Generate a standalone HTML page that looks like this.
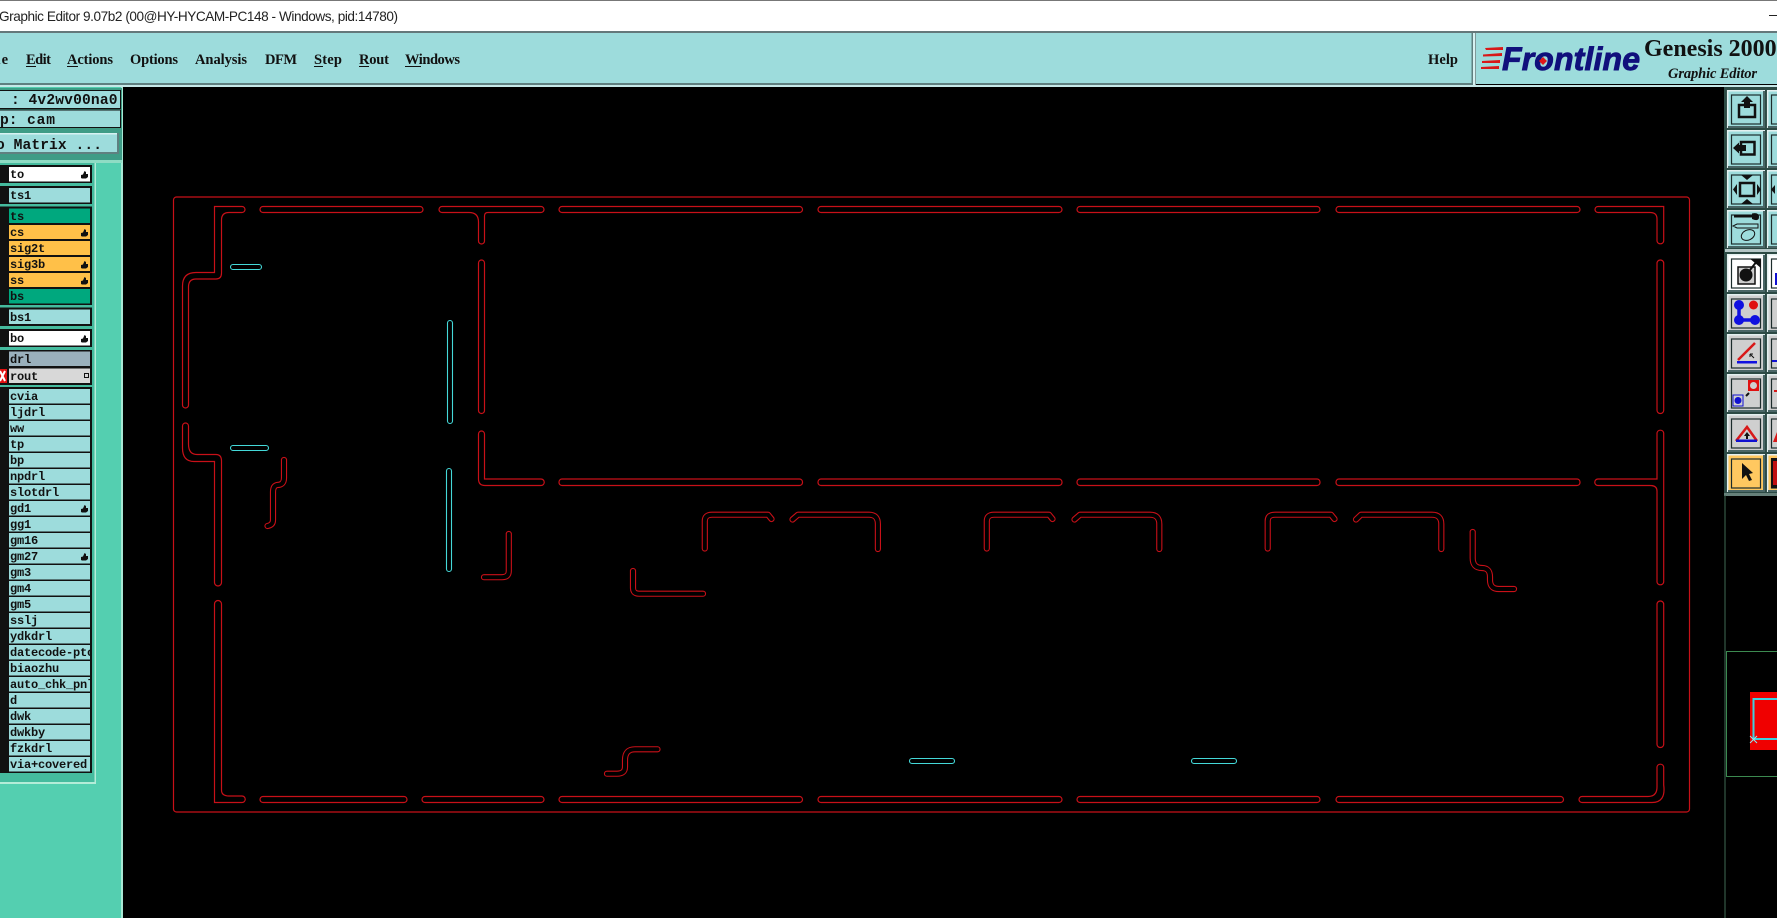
<!DOCTYPE html>
<html><head><meta charset="utf-8"><title>Graphic Editor</title>
<style>html,body{margin:0;padding:0;background:#000;overflow:hidden}svg{display:block}
.m{font:bold 14.5px "Liberation Serif",serif;fill:#111}
.l{font:bold 12px "Liberation Mono",monospace;fill:#111;letter-spacing:-.2px}
.j{font:bold 14.6px "Liberation Mono",monospace;fill:#111}</style></head><body>
<svg xmlns="http://www.w3.org/2000/svg" width="1777" height="918" viewBox="0 0 1777 918">
<defs>
<g id="b"><rect width="38" height="38"/><path d="M.7 38V.7H38" fill="none" stroke="#e4f0f0" stroke-width="1.500"/><path d="M37 1V37H1" fill="none" stroke="#4a6666" stroke-width="2"/><rect x="4.500" y="5" width="29" height="29" fill="none" stroke="#1c2c2c" stroke-width="1.200"/></g>
<path id="h" d="M0 7V4L2 3.500L3.500 0L5 1L5 3H7V6L5 7.500H1Z" fill="#111"/>
<g id="s" fill="none" stroke-linecap="round" stroke-linejoin="round">
<path d="M284 460V478Q284 485 277 485Q273 486 273 492V520Q273 525 267.500 526"/>
<path d="M508.800 534V571Q508.800 577.200 502 577.200H484"/>
<path d="M633 571V588Q633 593.700 639 593.700H703"/>
<path d="M657.500 749.300H635Q625 749.300 625 760V767Q625 773.700 617 773.700H607"/>
<path d="M704.800 548.500V521Q704.800 514.700 712 514.700H768L771.500 519"/>
<path d="M792.500 519.500L798 514.700H869Q877.900 514.700 877.900 524V549"/>
<path d="M986.800 548.500V521Q986.800 514.700 994 514.700H1049L1052.500 519"/>
<path d="M1074.500 519.500L1080 514.700H1150Q1159.300 514.700 1159.300 524V549"/>
<path d="M1267.700 548.500V521Q1267.700 514.700 1275 514.700H1331L1334.500 519"/>
<path d="M1356 519.500L1361 514.700H1432Q1441.300 514.700 1441.300 524V549"/>
<path d="M1472.700 532V558Q1472.700 568 1482 568Q1490 568 1490 577V580Q1490 589 1499 589H1514"/>
</g>
</defs>
<rect width="1777" height="918" fill="#000"/>

<!-- title bar -->
<rect width="1777" height="32" fill="#fff"/><rect width="1777" height="1" fill="#777"/>
<rect y="31" width="1777" height="2" fill="#64787a"/>
<text x="-1" y="21" font-family="Liberation Sans,sans-serif" font-size="13.600" fill="#222" textLength="399">Graphic Editor 9.07b2 (00@HY-HYCAM-PC148 - Windows, pid:14780)</text>
<rect x="1769" y="15" width="8" height="1" fill="#222"/>

<!-- menu -->
<rect y="33" width="1777" height="51" fill="#9ddcdc"/>
<rect y="83" width="1472" height="2" fill="#5f8080"/><rect y="85" width="1777" height="2" fill="#c6e8e8"/>
<rect x="1471.500" y="33" width="1.500" height="52" fill="#5f8080"/><rect x="1473" y="33" width="2" height="52" fill="#d6f2f2"/><rect x="1475" y="33" width="1" height="52" fill="#7f9a9a"/>
<text class="m" x="-18" y="64" textLength="26">File</text>
<text class="m" x="26" y="64" textLength="25">Edit</text>
<text class="m" x="67" y="64" textLength="46">Actions</text>
<text class="m" x="130" y="64" textLength="48">Options</text>
<text class="m" x="195" y="64" textLength="52">Analysis</text>
<text class="m" x="265" y="64" textLength="32">DFM</text>
<text class="m" x="314" y="64" textLength="28">Step</text>
<text class="m" x="359" y="64" textLength="30">Rout</text>
<text class="m" x="405" y="64" textLength="55">Windows</text>
<text class="m" x="1428" y="64" textLength="30">Help</text>
<g fill="#111"><rect x="26" y="66" width="10" height="1"/><rect x="67" y="66" width="11" height="1"/><rect x="314" y="66" width="9" height="1"/><rect x="359" y="66" width="10" height="1"/><rect x="405" y="66" width="16" height="1"/></g>
<!-- logo -->
<g fill="#d81818"><path d="M1485 48L1503 47V50L1486 50Z"/><path d="M1483 54.500L1502 53V56L1483 56.500Z"/><path d="M1482 61L1500 60V63L1482 63Z"/><path d="M1481 67L1499 66V69L1481 69Z"/></g>
<text x="1502" y="70" font-family="Liberation Sans,sans-serif" font-weight="bold" font-style="italic" font-size="32" fill="#10107c" stroke="#10107c" stroke-width=".9" textLength="138">Frontline</text>
<path d="M1543 57L1547 61L1543 65L1539 61Z" fill="#e01818"/>
<text x="1644" y="56" font-family="Liberation Serif,serif" font-weight="bold" font-size="24" fill="#111">Genesis 2000</text>
<text x="1668" y="78" font-family="Liberation Serif,serif" font-weight="bold" font-style="italic" font-size="14.500" fill="#111" textLength="89">Graphic Editor</text>

<!-- left panel -->
<rect y="87" width="121" height="831" fill="#54cfb0"/><rect x="121" y="87" width="2" height="831" fill="#a8e8d4"/>
<rect y="88" width="122" height="72" fill="#3e9c86"/>
<rect y="90" width="121" height="19" fill="#111"/><rect y="91" width="120" height="17" fill="#9ddcdc"/>
<rect y="109.500" width="121" height="18.500" fill="#111"/><rect y="110.500" width="120" height="16.500" fill="#9ddcdc"/>
<text class="j" x="11" y="104">:</text><text class="j" x="28.500" y="104" textLength="89">4v2wv00na0</text>
<text class="j" x="0" y="124">p:</text><text class="j" x="27" y="124" textLength="28">cam</text>
<rect y="131" width="121" height="24" fill="#3e9c86"/><rect y="133" width="119" height="21" fill="#5f8080"/><rect y="133" width="117" height="19" fill="#9ddcdc"/><rect y="133" width="117" height="1.500" fill="#d6f2f2"/>
<text class="j" x="-4" y="149" textLength="106">o Matrix ...</text>
<!-- layers frame -->
<rect y="160" width="122" height="3" fill="#8fdcc4"/>
<rect y="163" width="96" height="621" fill="#b4ecd8"/><rect y="163" width="94.500" height="619" fill="#45bb9e"/>
<g fill="#111">
<rect y="165" width="92" height="18"/><rect y="186" width="92" height="18"/><rect y="206.500" width="92" height="98.500"/><rect y="307.500" width="92" height="18.500"/><rect y="329" width="92" height="18"/><rect y="350" width="92" height="35"/><rect y="387" width="92" height="386"/>
</g>
<g fill="#9ddcdc">
<rect x="9" y="167" width="81" height="14.500" fill="#fff"/>
<rect x="9" y="188" width="81" height="14.500"/>
<rect x="9" y="208.500" width="81" height="14.500" fill="#00a87e"/>
<rect x="9" y="225" width="81" height="14" fill="#ffc048"/>
<rect x="9" y="241" width="81" height="14" fill="#ffc048"/>
<rect x="9" y="257" width="81" height="14" fill="#ffc048"/>
<rect x="9" y="273" width="81" height="14" fill="#ffc048"/>
<rect x="9" y="289" width="81" height="14.500" fill="#00a87e"/>
<rect x="9" y="309.500" width="81" height="14.500"/>
<rect x="9" y="331" width="81" height="14.500" fill="#fff"/>
<rect x="9" y="351.500" width="81" height="14.500" fill="#9ab0bc"/>
<rect x="9" y="368.500" width="81" height="14.500" fill="#d8d8d8"/>
<rect x="9" y="389" width="81" height="14.500"/><rect x="9" y="405" width="81" height="14.500"/><rect x="9" y="421" width="81" height="14.500"/><rect x="9" y="437" width="81" height="14.500"/><rect x="9" y="453" width="81" height="14.500"/><rect x="9" y="469" width="81" height="14.500"/><rect x="9" y="485" width="81" height="14.500"/><rect x="9" y="501" width="81" height="14.500"/><rect x="9" y="517" width="81" height="14.500"/><rect x="9" y="533" width="81" height="14.500"/><rect x="9" y="549" width="81" height="14.500"/><rect x="9" y="565" width="81" height="14.500"/><rect x="9" y="581" width="81" height="14.500"/><rect x="9" y="597" width="81" height="14.500"/><rect x="9" y="613" width="81" height="14.500"/><rect x="9" y="629" width="81" height="14.500"/><rect x="9" y="645" width="81" height="14.500"/><rect x="9" y="661" width="81" height="14.500"/><rect x="9" y="677" width="81" height="14.500"/><rect x="9" y="693" width="81" height="14.500"/><rect x="9" y="709" width="81" height="14.500"/><rect x="9" y="725" width="81" height="14.500"/><rect x="9" y="741" width="81" height="14.500"/><rect x="9" y="757" width="81" height="14.500"/>
</g>
<rect y="369" width="7" height="14" fill="#e01010"/><path d="M0 371L5 381M5 371L0 381" stroke="#fff" stroke-width="2"/>
<svg x="0" y="0" width="90" height="918" overflow="hidden">
<text class="l" x="10" y="178">to</text><text class="l" x="10" y="199">ts1</text><text class="l" x="10" y="220">ts</text><text class="l" x="10" y="236">cs</text><text class="l" x="10" y="252">sig2t</text><text class="l" x="10" y="268">sig3b</text><text class="l" x="10" y="284">ss</text><text class="l" x="10" y="300">bs</text><text class="l" x="10" y="321">bs1</text><text class="l" x="10" y="342">bo</text><text class="l" x="10" y="363">drl</text><text class="l" x="10" y="380">rout</text>
<text class="l" x="10" y="400">cvia</text><text class="l" x="10" y="416">ljdrl</text><text class="l" x="10" y="432">ww</text><text class="l" x="10" y="448">tp</text><text class="l" x="10" y="464">bp</text><text class="l" x="10" y="480">npdrl</text><text class="l" x="10" y="496">slotdrl</text><text class="l" x="10" y="512">gd1</text><text class="l" x="10" y="528">gg1</text><text class="l" x="10" y="544">gm16</text><text class="l" x="10" y="560">gm27</text><text class="l" x="10" y="576">gm3</text><text class="l" x="10" y="592">gm4</text><text class="l" x="10" y="608">gm5</text><text class="l" x="10" y="624">sslj</text><text class="l" x="10" y="640">ydkdrl</text><text class="l" x="10" y="656">datecode-ptc</text><text class="l" x="10" y="672">biaozhu</text><text class="l" x="10" y="688">auto_chk_pnl</text><text class="l" x="10" y="704">d</text><text class="l" x="10" y="720">dwk</text><text class="l" x="10" y="736">dwkby</text><text class="l" x="10" y="752">fzkdrl</text><text class="l" x="10" y="768">via+covered</text>
</svg>
<use href="#h" x="81" y="171"/><use href="#h" x="81" y="229"/><use href="#h" x="81" y="261"/><use href="#h" x="81" y="277"/><use href="#h" x="81" y="335"/><use href="#h" x="81" y="505"/><use href="#h" x="81" y="553"/>
<rect x="84.500" y="373.500" width="4" height="4" fill="none" stroke="#111"/>

<!-- canvas -->
<g fill="none" stroke="#c81018" stroke-width="1.200">
<rect x="173.500" y="197" width="1516" height="615" rx="3"/>
<!-- top row -->
<rect x="260" y="206.500" width="163" height="6" rx="3"/>
<rect x="559" y="206.500" width="243.500" height="6" rx="3"/><rect x="818" y="206.500" width="244" height="6" rx="3"/><rect x="1077" y="206.500" width="243" height="6" rx="3"/><rect x="1336" y="206.500" width="244" height="6" rx="3"/>
<!-- mid row -->
<rect x="559" y="479" width="243.500" height="6.500" rx="3"/><rect x="818" y="479" width="244" height="6.500" rx="3"/><rect x="1077" y="479" width="243" height="6.500" rx="3"/><rect x="1336" y="479" width="244" height="6.500" rx="3"/>
<!-- bottom row -->
<rect x="260" y="796.500" width="147" height="6" rx="3"/><rect x="422" y="796.500" width="122" height="6" rx="3"/><rect x="559" y="796.500" width="243.500" height="6" rx="3"/><rect x="818" y="796.500" width="244" height="6" rx="3"/><rect x="1077" y="796.500" width="243" height="6" rx="3"/><rect x="1336" y="796.500" width="227.500" height="6" rx="3"/>
<!-- verticals -->
<rect x="478.500" y="260" width="6" height="153.500" rx="3"/>
<rect x="1657" y="260" width="6.700" height="153.500" rx="3.300"/>
<rect x="1657" y="601" width="6.700" height="146.500" rx="3.300"/>
<!-- corner pieces -->
<path d="M214.500 206.500H242A3 3 0 0 1 242 212.500H229Q221.500 212.500 221.500 220V273Q221.500 279 216 279H196Q188.500 279 188.500 287V405A3 3 0 0 1 182.500 405V286Q182.500 272.500 196 272.500H214.500Z"/>
<path d="M182.500 426A3 3 0 0 1 188.500 426V444Q188.500 454.500 197 454.500H216Q221.500 454.500 221.500 461V582.500A3.500 3.500 0 0 1 214.500 582.500V461.500H194Q182.500 461.500 182.500 448Z"/>
<path d="M214.500 604A3.500 3.500 0 0 1 221.500 604V790Q221.500 796 229 796H242A3 3 0 0 1 242 802.500H214.500Z"/>
<path d="M442 206.500H541A3 3 0 0 1 541 212.500H488Q484.500 212.500 484.500 216V241A3 3 0 0 1 478.500 241V222Q478.500 212.500 469 212.500H442A3 3 0 0 1 442 206.500Z"/>
<path d="M478.500 434A3 3 0 0 1 484.500 434V479H541A3.200 3.200 0 0 1 541 485.500H485Q478.500 485.500 478.500 479Z"/>
<path d="M1598 206.500H1663.700V241A3.400 3.400 0 0 1 1657 241V219Q1657 212.500 1650 212.500H1598A3 3 0 0 1 1598 206.500Z"/>
<path d="M1657 433A3.400 3.400 0 0 1 1663.700 433V582A3.400 3.400 0 0 1 1657 582V491Q1657 485.500 1650 485.500H1598A3.200 3.200 0 0 1 1598 479H1657Z"/>
<path d="M1657 767A3.400 3.400 0 0 1 1663.700 767V785Q1666 802.500 1652 802.500H1582A3 3 0 0 1 1582 796.500H1648Q1657 796.500 1657 787Z"/>
</g>
<use href="#s" stroke="#c81018" stroke-width="6.200"/>
<use href="#s" stroke="#000" stroke-width="4"/>
<g fill="none" stroke="#44d8d8" stroke-width="1.100">
<rect x="230.500" y="264.500" width="31" height="5" rx="2.500"/>
<rect x="230.500" y="445.500" width="38" height="5" rx="2.500"/>
<rect x="447.500" y="320.500" width="5" height="103" rx="2.500"/>
<rect x="446.500" y="468.500" width="5" height="103" rx="2.500"/>
<rect x="909.500" y="758.500" width="45" height="5" rx="2.500"/>
<rect x="1191.500" y="758.500" width="45" height="5" rx="2.500"/>
</g>

<!-- right toolbar -->
<rect x="1724" y="87" width="53" height="408" fill="#2c4a44"/>
<use href="#b" x="1727" y="90" fill="#9ddcdc"/><use href="#b" x="1767" y="90" fill="#9ddcdc"/>
<use href="#b" x="1727" y="130" fill="#9ddcdc"/><use href="#b" x="1767" y="130" fill="#9ddcdc"/>
<use href="#b" x="1727" y="170" fill="#9ddcdc"/><use href="#b" x="1767" y="170" fill="#9ddcdc"/>
<use href="#b" x="1727" y="210" fill="#9ddcdc"/><use href="#b" x="1767" y="210" fill="#9ddcdc"/>
<rect x="1725" y="249" width="52" height="3" fill="#b4c6c6"/>
<use href="#b" x="1727" y="254" fill="#fff"/><use href="#b" x="1767" y="254" fill="#fff"/>
<use href="#b" x="1727" y="294" fill="#cfcfcf"/><use href="#b" x="1767" y="294" fill="#cfcfcf"/>
<use href="#b" x="1727" y="334" fill="#cfcfcf"/><use href="#b" x="1767" y="334" fill="#cfcfcf"/>
<use href="#b" x="1727" y="374" fill="#cfcfcf"/><use href="#b" x="1767" y="374" fill="#cfcfcf"/>
<use href="#b" x="1727" y="414" fill="#cfcfcf"/><use href="#b" x="1767" y="414" fill="#cfcfcf"/>
<use href="#b" x="1727" y="454" fill="#ffc860"/><use href="#b" x="1767" y="454" fill="#ffc860"/>
<!-- icons -->
<g fill="none" stroke="#111" stroke-width="2.500"><rect x="1739" y="105" width="16" height="12"/><rect x="1741" y="142" width="13.500" height="12.500"/><rect x="1740" y="183" width="14" height="13"/></g>
<g fill="#111"><path d="M1747 96L1753 102H1750V108H1744V102H1741Z"/><path d="M1733 148L1739 142.500V145H1746V151H1739V153.500Z"/><path d="M1741 175H1753L1747 180Z"/><path d="M1741 204H1753L1747 199Z"/><path d="M1733 189.500L1737 184V195Z"/><path d="M1761 189.500L1757 184V195Z"/>
<rect x="1734" y="215" width="24" height="2.500"/><path d="M1752 213.500Q1759 212 1759 217Q1759 222 1752 219Z"/></g>
<path d="M1737 224H1758V228H1737L1733 226Z" fill="#9ddcdc" stroke="#111"/>
<ellipse cx="1748" cy="235" rx="7" ry="5" fill="none" stroke="#111" transform="rotate(-25 1748 235)"/>
<!-- white btn icon -->
<rect x="1738" y="267" width="17" height="17" fill="#ccc" stroke="#111" stroke-width="1.500"/><circle cx="1746" cy="275" r="6.500" fill="#111"/><path d="M1750 270L1757 261M1753 260H1760V266Z" stroke="#111" stroke-width="2" fill="#111"/>
<!-- blue dots -->
<path d="M1739 303V320H1756" fill="none" stroke="#1010e0" stroke-width="3.500"/><circle cx="1739" cy="305" r="5" fill="#1010e0"/><circle cx="1739" cy="320" r="5" fill="#1010e0"/><circle cx="1755" cy="320" r="5" fill="#1010e0"/><circle cx="1753.500" cy="305" r="4.500" fill="#e01010"/>
<!-- slanted -->
<path d="M1738 360L1755 343" stroke="#d81818" stroke-width="2.500"/><rect x="1737" y="361" width="20" height="2.500" fill="#1010e0"/><path d="M1750 354L1754 358M1750 354H1753M1750 354V357" stroke="#111"/>
<!-- squares -->
<rect x="1748" y="380" width="11" height="11" fill="#e01010"/><circle cx="1753.500" cy="385.500" r="3.500" fill="#cfcfcf"/><rect x="1733" y="395" width="10" height="11" fill="#cfcfcf" stroke="#1010d0"/><circle cx="1738" cy="400.500" r="3.500" fill="#1010d0"/><path d="M1746 396L1749 393" stroke="#111" stroke-width="2"/>
<!-- triangle -->
<path d="M1736 441L1747 427L1757 441" fill="none" stroke="#d81818" stroke-width="2.500"/><rect x="1736" y="439.500" width="21" height="2.500" fill="#1010d0"/><path d="M1747 432L1750 436H1748V439H1746V436H1744Z" fill="#111"/>
<!-- arrow -->
<path d="M1742 463V479L1746 475L1749 481L1752 480L1749 474L1753 473Z" fill="#111"/>
<!-- col 2 fragments -->
<path d="M1771 189.500L1775 185V194Z" fill="#111"/>
<rect x="1775" y="273" width="2" height="12" fill="#1010d0"/><rect x="1772" y="360" width="5" height="2" fill="#1010d0"/><rect x="1774" y="390" width="3" height="2" fill="#d81818"/><path d="M1773 442L1777 432V442Z" fill="#d81818"/>
<rect x="1771" y="458" width="6" height="30" fill="#111"/><rect x="1773" y="461" width="4" height="24" fill="#c01010"/>
<rect x="1724" y="493" width="53" height="3" fill="#66807a"/>
<!-- preview -->
<rect x="1724.500" y="495" width="1" height="423" fill="#406a55"/>
<rect x="1726.500" y="651.500" width="60" height="125" fill="none" stroke="#3c8a50"/>
<rect x="1750" y="692" width="27" height="58" fill="#f00000"/>
<rect x="1753.500" y="699" width="30" height="40" fill="none" stroke="#40d0e0" stroke-width="2"/>
<path d="M1750 736L1757 743M1757 736L1750 743" stroke="#90e8f0"/>
</svg>
</body></html>
